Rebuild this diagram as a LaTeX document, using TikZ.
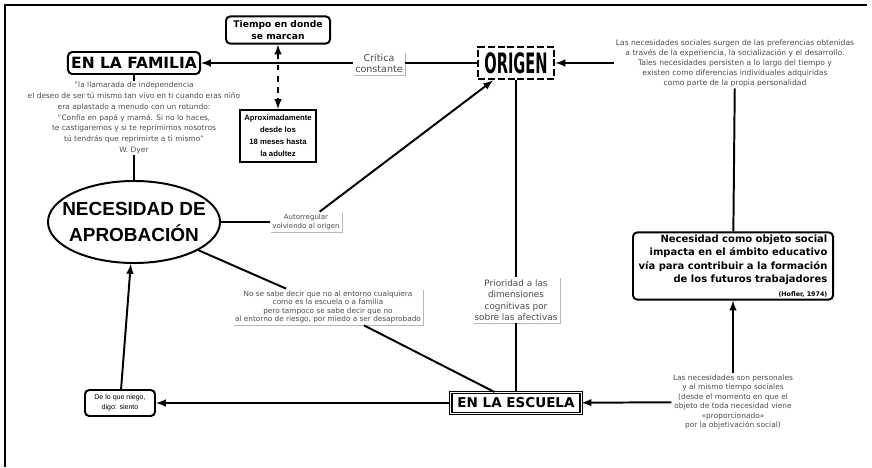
\documentclass[tikz,border=0pt]{standalone}
\usepackage{fontspec}
\setmainfont{DejaVu Sans}
\newfontfamily\arialfont{Liberation Sans}
\usepackage{graphicx}
\usetikzlibrary{shapes.geometric}
\usetikzlibrary{shadows}
\definecolor{txtgray}{rgb}{0.3, 0.3, 0.3}
\definecolor{shade}{rgb}{0.72, 0.72, 0.72}

\tikzset{
  rbox/.style={draw, line width=1.4pt, rounded corners=3pt, fill=white, align=center, inner sep=1pt},
  sbox/.style={draw, line width=1.4pt, fill=white, align=center, inner sep=1pt},
  note/.style={text=txtgray, align=center, inner sep=1pt},
  lbl/.style={note, fill=white, inner sep=1.5pt, drop shadow={shadow xshift=0.8pt, shadow yshift=-0.8pt, fill=shade, opacity=1}},
  conn/.style={line width=1.4pt}
}

\begin{document}
\begin{tikzpicture}[x=0.025cm, y=-0.025cm, >=latex]
\useasboundingbox (0, 0) rectangle (872, 467);
\draw [line width=1pt] (5, 467) -- (5, 5) -- (867, 5);
% top row
\node [rbox, minimum width=3.3cm, minimum height=0.55cm, font=\fontsize{11}{13}\selectfont\bfseries] (familia) at (134, 63) {EN LA FAMILIA};
\node [rbox, minimum width=2.6cm, minimum height=0.68cm, font=\fontsize{6.5}{8.5}\selectfont\bfseries] (tiempo) at (278, 30) {Tiempo en donde\\se marcan};
\node [sbox, minimum width=1.9cm, minimum height=1.3cm, font=\arialfont\fontsize{5.5}{8.5}\selectfont\bfseries] (aprox) at (278, 136) {Aproximadamente\\desde los\\18 meses hasta\\la adultez};
\node [lbl, font=\fontsize{6.8}{8}\selectfont] (critica) at (379, 63) {Crítica\\constante};
\node [draw, dashed, dash pattern=on 5pt off 2pt, line width=2pt, fill=white, minimum width=1.9cm, minimum height=0.8cm, inner sep=0pt, font=\fontsize{20}{22}\selectfont\bfseries] (origen) at (516, 63) {\scalebox{0.52}[1]{ORIGEN}};
\node [note, font=\fontsize{5.4}{7.1}\selectfont] (sociales) at (735, 63) {Las necesidades sociales surgen de las preferencias obtenidas\\a través de la experiencia, la socialización y el desarrollo.\\Tales necesidades persisten a lo largo del tiempo y\\existen como diferencias individuales adquiridas\\como parte de la propia personalidad};
% left side
\node [note, font=\fontsize{5.3}{7.6}\selectfont] (dyer) at (134, 118) {"la llamarada de independencia\\el deseo de ser tú mismo tan vivo en ti cuando eras niño\\era aplastado a menudo con un rotundo:\\"Confía en papá y mamá. Si no lo haces,\\te castigaremos y si te reprimimos nosotros\\tú tendrás que reprimirte a ti mismo"\\W. Dyer};
\node [ellipse, draw, line width=1.4pt, fill=white, minimum width=4.3cm, minimum height=2.05cm, inner xsep=-10pt, inner ysep=0pt, align=center, font=\arialfont\fontsize{13.5}{19}\selectfont\bfseries] (aprobacion) at (134, 222) {NECESIDAD DE\\APROBACIÓN};
\node [lbl, font=\fontsize{5}{6.5}\selectfont] (autorregular) at (306, 222) {Autorregular\\volviendo al origen};
\node [lbl, font=\fontsize{5.2}{5.9}\selectfont] (nosabe) at (328, 307) {No se sabe decir que no al entorno cualquiera\\como es la escuela o a familia\\pero tampoco se sabe decir que no\\al entorno de riesgo, por miedo a ser desaprobado};
\node [lbl, font=\fontsize{6.3}{8.2}\selectfont] (prioridad) at (516, 300) {Prioridad a las\\dimensiones\\cognitivas por\\sobre las afectivas};
% bottom row
\node [draw, double, double distance=0.7pt, line width=0.8pt, fill=white, minimum width=3.25cm, minimum height=0.52cm, inner sep=1pt, font=\fontsize{9.6}{11}\selectfont\bfseries] (escuela) at (516, 403) {EN LA ESCUELA};
\node [rbox, minimum width=1.75cm, minimum height=0.65cm, font=\arialfont\fontsize{5}{7}\selectfont] (niego) at (120, 403) {De lo que niego,\\digo: siento};
\node [rbox, minimum width=5cm, minimum height=1.68cm, align=right, font=\fontsize{7.1}{9.6}\selectfont\bfseries] (objeto) at (733, 266) {Necesidad como objeto social\\impacta en el ámbito educativo\\vía para contribuir a la formación\\de los futuros trabajadores\\{\fontsize{4.5}{6}\selectfont (Hofler, 1974)}};
\node [note, font=\fontsize{5.3}{6.8}\selectfont] (personales) at (733, 402) {Las necesidades son personales\\y al mismo tiempo sociales\\(desde el momento en que el\\objeto de toda necesidad viene\\«proporcionado»\\por la objetivación social)};
% connectors
\draw [conn] (origen) -- (critica);
\draw [conn, ->] (critica) -- (familia);
\draw [conn, dashed, dash pattern=on 4pt off 4pt, <->] (tiempo) -- (aprox);
\draw [conn, ->] (sociales) -- (origen);
\draw [conn] (sociales) -- (objeto);
\draw [conn] (familia) -- (dyer);
\draw [conn] (dyer) -- (aprobacion);
\draw [conn] (aprobacion) -- (autorregular);
\draw [conn, ->] (autorregular) -- (origen);
\draw [conn] (aprobacion) -- (nosabe);
\draw [conn] (nosabe) -- (escuela);
\draw [conn] (origen) -- (prioridad);
\draw [conn] (prioridad) -- (escuela);
\draw [conn, ->] (escuela) -- (niego);
\draw [conn, ->] (niego) -- (aprobacion);
\draw [conn, ->] (personales) -- (objeto);
\draw [conn, ->] (personales) -- (escuela);
\end{tikzpicture}
\end{document}
